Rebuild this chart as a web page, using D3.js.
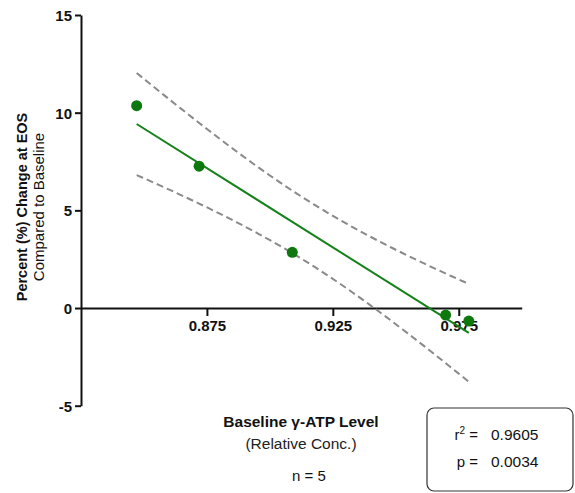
<!DOCTYPE html>
<html>
<head>
<meta charset="utf-8">
<script src="https://cdn.jsdelivr.net/npm/d3@7"></script>
<style>
  body { margin: 0; background: #fff; }
  svg { display: block; font-family: "Liberation Sans", Arial, sans-serif; }
</style>
</head>
<body>
<div id="chart"></div>
<script>
// data
var atpLevel = [0.8471, 0.8719, 0.9089, 0.9698, 0.9790];
var pctChange = [10.36, 7.26, 2.85, -0.36, -0.67];
var xTicks = [0.875, 0.925, 0.975];
var yTicks = [-5, 0, 5, 10, 15];
var statNames = ['r', 'p'];
var statValues = ['0.9605', '0.0034'];
var sampleSize = 5;

var svgWidth = 575, svgHeight = 493;
var svg = d3.select('#chart').append('svg')
    .attr('width', svgWidth)
    .attr('height', svgHeight);

var x = d3.scaleLinear().domain([0.825, 1.0]).range([81, 521.7]);
var y = d3.scaleLinear().domain([-5, 15]).range([405.7, 15]);

// linear fit + 95% confidence band
var n = atpLevel.length;
var mx = d3.mean(atpLevel), my = d3.mean(pctChange);
var sxx = d3.sum(atpLevel, function(v) { return (v - mx) * (v - mx); });
var sxy = d3.sum(atpLevel, function(v, i) { return (v - mx) * (pctChange[i] - my); });
var slope = sxy / sxx;
var intercept = my - slope * mx;
var sse = d3.sum(atpLevel, function(v, i) {
    var r = pctChange[i] - (intercept + slope * v);
    return r * r;
});
var se = Math.sqrt(sse / (n - 2));
var tCrit = 3.182; // df = 3

var xMin = d3.min(atpLevel), xMax = d3.max(atpLevel);
var grid = d3.range(0, 61).map(function(i) { return xMin + (xMax - xMin) * i / 60; });
function fit(v) { return intercept + slope * v; }
function half(v) { return tCrit * se * Math.sqrt(1 / n + (v - mx) * (v - mx) / sxx); }

var line = d3.line()
    .x(function(d) { return x(d[0]); })
    .y(function(d) { return y(d[1]); });

// axes
var yAxis = svg.append('g')
    .attr('transform', 'translate(' + x(0.825) + ',0)')
    .call(d3.axisLeft(y).tickValues(yTicks).tickFormat(function(d) { return String(d); })
        .tickSize(6).tickSizeOuter(0).tickPadding(3));

var xAxis = svg.append('g')
    .attr('transform', 'translate(0,' + y(0) + ')')
    .call(d3.axisBottom(x).tickValues(xTicks).tickFormat(d3.format('.3f')).tickSize(8).tickSizeOuter(0).tickPadding(4));

[xAxis, yAxis].forEach(function(a) {
    a.select('.domain').attr('stroke', '#111').attr('stroke-width', 2);
    a.selectAll('.tick line').attr('stroke', '#111').attr('stroke-width', 2);
    a.selectAll('.tick text')
        .attr('fill', '#111')
        .style('font-size', '15px')
        .style('font-weight', 'bold')
        .style('font-family', '"Liberation Sans", Arial, sans-serif');
});
yAxis.selectAll('.tick text').attr('dy', '0.36em');

// confidence bands
svg.append('path')
    .attr('d', line(grid.map(function(v) { return [v, fit(v) + half(v)]; })))
    .attr('fill', 'none').attr('stroke', '#8a8a8a').attr('stroke-width', 2)
    .attr('stroke-dasharray', '7,4');
svg.append('path')
    .attr('d', line(grid.map(function(v) { return [v, fit(v) - half(v)]; })))
    .attr('fill', 'none').attr('stroke', '#8a8a8a').attr('stroke-width', 2)
    .attr('stroke-dasharray', '7,4');

// regression line
svg.append('path')
    .attr('d', line([[xMin, fit(xMin)], [xMax, fit(xMax)]]))
    .attr('fill', 'none').attr('stroke', '#16801a').attr('stroke-width', 2);

// points
svg.selectAll('.dot')
    .data(atpLevel)
    .enter().append('circle')
    .attr('class', 'dot')
    .attr('cx', function(d) { return x(d); })
    .attr('cy', function(d, i) { return y(pctChange[i]); })
    .attr('r', 5.5)
    .attr('fill', '#0d780d');

// y title
var yTitle = svg.append('text')
    .attr('transform', 'translate(27,207) rotate(-90)')
    .attr('text-anchor', 'middle')
    .attr('fill', '#111');
yTitle.append('tspan')
    .attr('x', 0).attr('y', 0)
    .style('font-weight', 'bold').style('font-size', '14.5px')
    .text('Percent (%) Change at EOS');
yTitle.append('tspan')
    .attr('x', 0).attr('y', 17)
    .style('font-size', '15px')
    .text('Compared to Baseline');

// x title
svg.append('text')
    .attr('x', 301).attr('y', 427)
    .attr('text-anchor', 'middle')
    .style('font-weight', 'bold').style('font-size', '15.5px')
    .attr('fill', '#111')
    .text('Baseline \u03b3-ATP Level');
svg.append('text')
    .attr('x', 301).attr('y', 449)
    .attr('text-anchor', 'middle')
    .style('font-size', '15.5px')
    .attr('fill', '#222')
    .text('(Relative Conc.)');
svg.append('text')
    .attr('x', 309).attr('y', 481)
    .attr('text-anchor', 'middle')
    .style('font-size', '15px')
    .attr('fill', '#111')
    .text('n = ' + sampleSize);

// stats box
svg.append('rect')
    .attr('x', 427).attr('y', 408)
    .attr('width', 146).attr('height', 83)
    .attr('rx', 7)
    .attr('fill', '#fff')
    .attr('stroke', '#333').attr('stroke-width', 1.2);

statNames.forEach(function(name, i) {
    var by = 440 + i * 27;
    var lbl = svg.append('text')
        .attr('x', 478).attr('y', by)
        .attr('text-anchor', 'end')
        .style('font-size', '15px')
        .attr('fill', '#111');
    lbl.append('tspan').text(name);
    if (i === 0) {
        lbl.append('tspan').attr('dy', -6).style('font-size', '10px').text('2');
        lbl.append('tspan').attr('dy', 6).text(' =');
    } else {
        lbl.append('tspan').text(' =');
    }
    svg.append('text')
        .attr('x', 491).attr('y', by)
        .style('font-size', '15.5px')
        .attr('fill', '#111')
        .text(statValues[i]);
});
</script>
</body>
</html>
